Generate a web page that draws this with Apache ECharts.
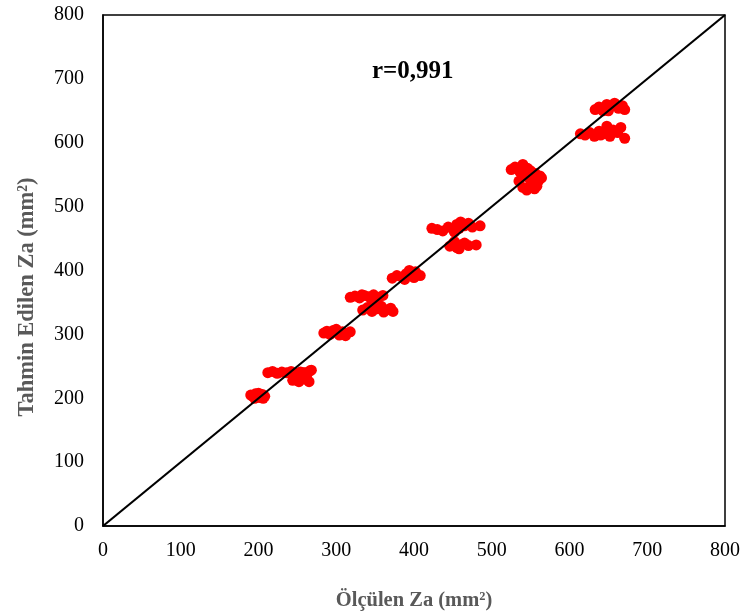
<!DOCTYPE html>
<html>
<head>
<meta charset="utf-8">
<script src="https://cdn.jsdelivr.net/npm/echarts@6/dist/echarts.min.js"></script>
<style>
  html, body { margin: 0; padding: 0; background: #fff; }
  #chart { width: 743px; height: 616px; }
</style>
</head>
<body>
<div id="chart"></div>
<script>
// measured (x) vs predicted (y) pairs, grouped by cluster
const cluster200 = [[190,205],[193,203],[196,207],[199,204],[202,201],[205,206],[208,203],[195,200],[200,208],[206,200]]
const cluster240 = [[212,240],[218,242],[224,239],[230,241],[236,240],[242,242],[248,239],[254,241],[260,240],[266,243],
  [245,232],[250,228],[255,235],[260,230],[265,226],[248,238],[258,240],[262,236],[252,226],[244,228],[268,244]]
const cluster300 = [[284,302],[288,305],[292,300],[296,306],[300,303],[304,299],[308,304],[312,298],[300,308],[318,304]]
const cluster360 = [[318,358],[324,360],[330,357],[336,361],[342,359],[348,362],[354,358],[360,361],[333,362],[345,356]]
const cluster340 = [[334,338],[340,342],[346,336],[352,340],[358,344],[364,338],[370,341],[373,336],[349,345],[361,335]]
const cluster392 = [[372,388],[378,392],[384,390],[390,395],[396,393],[402,398],[408,392],[388,386],[394,400],[400,389]]
const cluster466 = [[423,466],[430,464],[437,462],[444,468],[450,465],[455,472],[460,476],[465,470],[470,474],[475,468],[485,470],[452,460],[458,466]]
const cluster440 = [[446,438],[450,442],[455,436],[460,440],[465,443],[470,439],[480,440],[452,445],[458,434]]
const cluster545 = [[525,558],[530,562],[536,555],[540,566],[546,560],[550,556],[535,540],
  [540,530],[545,526],[550,535],[555,528],[560,540],[562,548],[548,545],[556,552],[552,540],[558,532],[564,545],[542,548]]
const cluster655 = [[633,652],[638,656],[643,650],[648,660],[653,656],[658,662],[663,654],[668,658],[671,652],[650,650]]
const cluster615 = [[614,614],[620,612],[626,616],[632,610],[638,618],[644,614],[648,626],[652,610],[656,620],[662,616],[666,624],[671,607],[640,612]]
const idealLine = [[0,0],[800,800]]
const rLabel = 'r=0,991'
const xTitle = 'Ölçülen Za (mm²)'
const yTitle = 'Tahmin Edilen Za (mm²)'

const points = [].concat(cluster200, cluster240, cluster300, cluster360, cluster340,
  cluster392, cluster466, cluster440, cluster545, cluster655, cluster615)

const serif = '"Liberation Serif", "DejaVu Serif", serif'
const chart = echarts.init(document.getElementById('chart'))

chart.setOption({
  animation: false,
  grid: {
    left: 103, right: 18, top: 15, bottom: 90,
    show: true, borderColor: '#000', borderWidth: 1.5
  },
  xAxis: {
    type: 'value', min: 0, max: 800, interval: 100,
    name: xTitle, nameLocation: 'middle', nameGap: 64,
    nameTextStyle: { fontFamily: serif, fontSize: 20.5, fontWeight: 'bold', color: '#595959' },
    axisLine: { lineStyle: { color: '#000', width: 1.5 } },
    axisTick: { show: false },
    splitLine: { show: false },
    axisLabel: { fontFamily: serif, fontSize: 20, color: '#000', margin: 15 }
  },
  yAxis: {
    type: 'value', min: 0, max: 800, interval: 100,
    axisLine: { lineStyle: { color: '#000', width: 1.5 } },
    axisTick: { show: false },
    splitLine: { show: false },
    axisLabel: { fontFamily: serif, fontSize: 20, color: '#000', margin: 19 }
  },
  graphic: [
    {
      type: 'text', left: 372, top: 59,
      style: { text: rLabel, font: 'bold 25px ' + serif, fill: '#000' }
    },
    {
      type: 'text', x: 27, y: 297, rotation: Math.PI / 2,
      style: {
        text: yTitle, font: 'bold 22.5px ' + serif, fill: '#595959',
        align: 'center', verticalAlign: 'middle'
      }
    }
  ],
  series: [
    {
      type: 'line', data: idealLine, symbol: 'none',
      lineStyle: { color: '#000', width: 2.2 }, z: 3
    },
    {
      type: 'scatter', data: points, symbol: 'circle', symbolSize: 11,
      itemStyle: { color: '#ff0000', opacity: 1 }, z: 2
    }
  ]
})
</script>
</body>
</html>
